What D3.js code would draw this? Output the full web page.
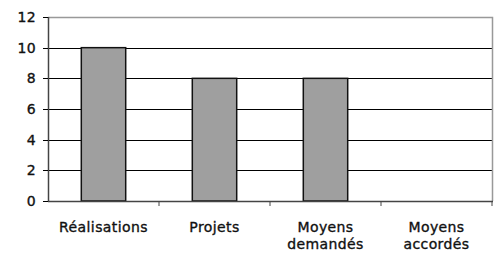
<!DOCTYPE html>
<html>
<head>
<meta charset="utf-8">
<script src="https://cdn.jsdelivr.net/npm/d3@7"></script>
<style>
  body { margin: 0; background: #fff; }
  text { font-family: "DejaVu Sans", sans-serif; font-size: 14px; letter-spacing: 0.4px; fill: #111; stroke: #111; stroke-width: 0.35px; }
</style>
</head>
<body>
<svg id="chart" width="495" height="257"></svg>
<script>
// data
const categories = [['Réalisations'], ['Projets'], ['Moyens', 'demandés'], ['Moyens', 'accordés']];
const values = [10, 8, 8, 0];
const yTicks = [0, 2, 4, 6, 8, 10, 12];

const svg = d3.select('#chart');
const mLeft = 48, mRight = 492, mTop = 17, mBottom = 201;

const x = d3.scaleBand()
  .domain(d3.range(categories.length))
  .range([mLeft, mRight])
  .paddingInner(0.6)
  .paddingOuter(0.3);
const y = d3.scaleLinear().domain([0, 12]).range([mBottom, mTop]);

// gridlines
svg.selectAll('line.grid')
  .data(yTicks.filter(t => t > 0 && t < 12))
  .join('line')
  .attr('x1', mLeft).attr('x2', mRight)
  .attr('y1', d => Math.round(y(d)) + 0.5).attr('y2', d => Math.round(y(d)) + 0.5)
  .attr('stroke', '#000');

// plot border top/right (grey)
svg.append('path')
  .attr('d', `M${mLeft},${Math.round(y(12)) + 0.5}H${mRight + 0.5}V${mBottom}`)
  .attr('fill', 'none').attr('stroke', '#999').attr('stroke-width', 1.5);

// bars
svg.selectAll('rect.bar')
  .data(values)
  .join('rect')
  .filter(d => d > 0)
  .attr('x', (d, i) => x(i))
  .attr('y', d => y(d))
  .attr('width', x.bandwidth())
  .attr('height', d => mBottom - y(d))
  .attr('fill', '#9f9f9f')
  .attr('stroke', '#111')
  .attr('stroke-width', 1.5);

// y axis
const yAxis = svg.append('g').attr('transform', `translate(${mLeft},0)`);
yAxis.append('line').attr('x1', 0.5).attr('x2', 0.5).attr('y1', mTop).attr('y2', mBottom + 1)
  .attr('stroke', '#444').attr('stroke-width', 1.5);
yAxis.selectAll('line.tick')
  .data(yTicks)
  .join('line')
  .attr('x1', -5).attr('x2', 0)
  .attr('y1', d => Math.round(y(d)) + 0.5).attr('y2', d => Math.round(y(d)) + 0.5)
  .attr('stroke', '#000');
yAxis.selectAll('text')
  .data(yTicks)
  .join('text')
  .attr('x', -12)
  .attr('y', d => y(d))
  .attr('dy', '0.36em')
  .attr('text-anchor', 'end')
  .text(d => d);

// x axis
svg.append('line').attr('x1', mLeft).attr('x2', mRight + 1)
  .attr('y1', mBottom + 0.5).attr('y2', mBottom + 0.5)
  .attr('stroke', '#444').attr('stroke-width', 1.5);
const step = x.step();
svg.selectAll('line.xtick')
  .data(d3.range(1, categories.length + 1))
  .join('line')
  .attr('x1', i => mLeft + i * step).attr('x2', i => mLeft + i * step)
  .attr('y1', mBottom).attr('y2', mBottom + 5)
  .attr('stroke', '#444');

svg.selectAll('text.cat')
  .data(categories)
  .join('text')
  .attr('class', 'cat')
  .attr('text-anchor', 'middle')
  .attr('x', (d, i) => x(i) + x.bandwidth() / 2)
  .attr('y', 232)
  .selectAll('tspan')
  .data(d => d)
  .join('tspan')
  .attr('x', function () { return this.parentNode.getAttribute('x'); })
  .attr('dy', (d, i) => i === 0 ? 0 : 17)
  .text(d => d);
</script>
</body>
</html>
